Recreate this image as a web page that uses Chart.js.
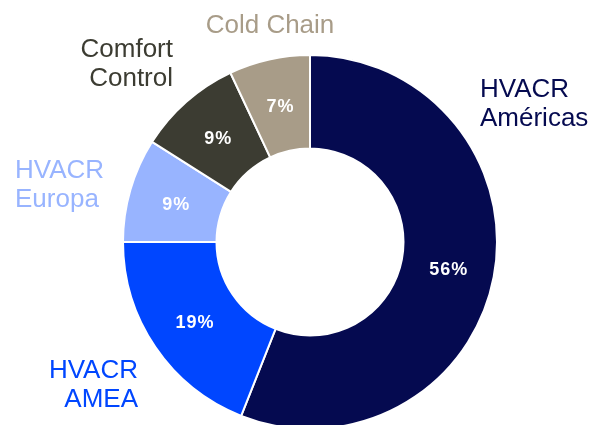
<!DOCTYPE html>
<html>
<head>
<meta charset="utf-8">
<script src="https://cdn.jsdelivr.net/npm/chart.js@4.4.1/dist/chart.umd.min.js"></script>
<style>
html,body{margin:0;padding:0;background:#fff;overflow:hidden;}
#wrap{width:596px;height:484px;position:relative;}
</style>
</head>
<body>
<div id="wrap"><canvas id="c" width="596" height="484"></canvas></div>
<script>
const categories = ["HVACR Américas", "HVACR AMEA", "HVACR Europa", "Comfort Control", "Cold Chain"];
const values = [56, 19, 9, 9, 7];
const valueLabels = ["56%", "19%", "9%", "9%", "7%"];
const labelLines = [["HVACR", "Américas"], ["HVACR", "AMEA"], ["HVACR", "Europa"], ["Comfort", "Control"], ["Cold Chain"]];
const colors = ["#050A50", "#0046FF", "#98B4FF", "#3C3C32", "#A89C88"];

// outside label layout: offset from chart centre (px), alignment
const labelLayout = [
  {dx: 170, dy: -145, align: "left"},
  {dx: -172, dy: 136, align: "right"},
  {dx: -295, dy: -64, align: "left"},
  {dx: -137, dy: -185, align: "right"},
  {dx: -40, dy: -209, align: "center"}
];

const labelsPlugin = {
  id: "labelsPlugin",
  afterDatasetsDraw(chart) {
    const ctx = chart.ctx;
    const meta = chart.getDatasetMeta(0);
    const cx = meta.data[0].x, cy = meta.data[0].y;
    ctx.save();
    ctx.textBaseline = "middle";
    ctx.textAlign = "center";
    ctx.fillStyle = "#ffffff";
    ctx.font = "bold 18px 'Liberation Sans'";
    try { ctx.letterSpacing = "1px"; } catch (e) {}
    meta.data.forEach((arc, i) => {
      const p = arc.tooltipPosition();
      ctx.fillText(valueLabels[i], p.x + 1, p.y + 2);
    });
    try { ctx.letterSpacing = "0px"; } catch (e) {}
    ctx.font = "26px 'Liberation Sans'";
    ctx.textBaseline = "alphabetic";
    labelLines.forEach((lines, i) => {
      const L = labelLayout[i];
      ctx.fillStyle = colors[i];
      ctx.textAlign = L.align;
      lines.forEach((t, j) => {
        ctx.fillText(t, cx + L.dx, cy + L.dy + j * 29);
      });
    });
    ctx.restore();
  }
};

new Chart(document.getElementById("c"), {
  type: "doughnut",
  data: {
    labels: categories,
    datasets: [{
      data: values,
      backgroundColor: colors,
      borderColor: "#ffffff",
      borderWidth: 2,
      hoverOffset: 0,
      radius: 187
    }]
  },
  options: {
    responsive: false,
    animation: false,
    events: [],
    cutout: "50%",
    layout: {padding: {left: 24}},
    plugins: {legend: {display: false}, tooltip: {enabled: false}}
  },
  plugins: [labelsPlugin]
});
</script>
</body>
</html>
